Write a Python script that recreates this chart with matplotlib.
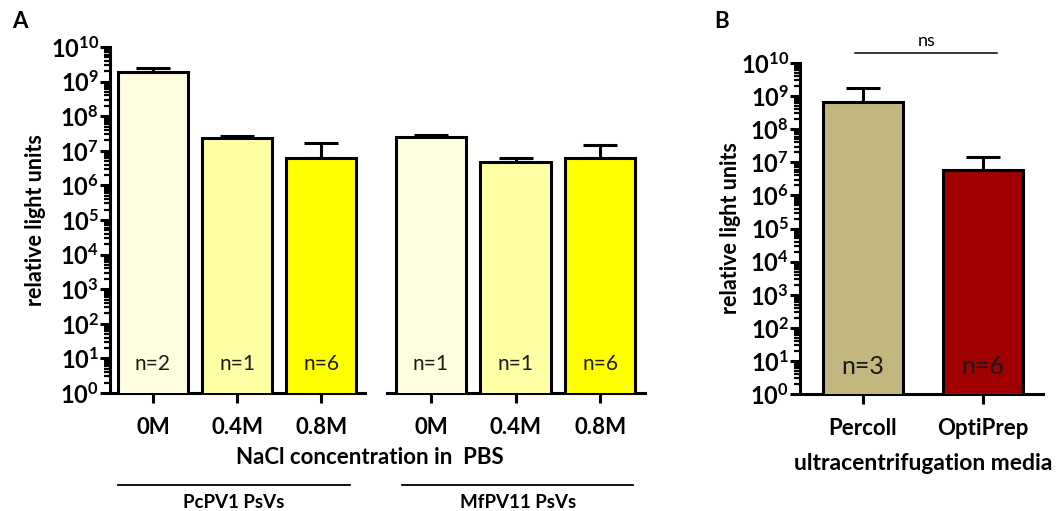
import matplotlib
matplotlib.use("Agg")
import matplotlib.pyplot as plt
import numpy as np

plt.rcParams['font.family'] = ['Lato', 'DejaVu Sans']
plt.rcParams['mathtext.fontset'] = 'custom'
plt.rcParams['mathtext.rm'] = 'Lato'
plt.rcParams['mathtext.bf'] = 'Lato:bold'

# ---- data ----
conc_labels = ['0M', '0.4M', '0.8M']
pcpv1_values = [1.9e9, 2.3e7, 6.2e6]
pcpv1_err_top = [2.5e9, 2.7e7, 1.7e7]
pcpv1_n = ['n=2', 'n=1', 'n=6']
mfpv11_values = [2.5e7, 4.6e6, 6.0e6]
mfpv11_err_top = [2.8e7, 6.2e6, 1.45e7]
mfpv11_n = ['n=1', 'n=1', 'n=6']
conc_colors = ['#FFFDE0', '#FFFFA3', '#FFFF00']

media_labels = ['Percoll', 'OptiPrep']
media_values = [6.5e8, 5.8e6]
media_err_top = [1.7e9, 1.4e7]
media_n = ['n=3', 'n=6']
media_colors = ['#C2B67F', '#A00000']

ytick_vals = [10.0 ** k for k in range(0, 11)]
ytick_labels = [r'$\mathbf{10^{%d}}$' % k for k in range(0, 11)]

W, H = 1057, 511
fig = plt.figure(figsize=(W / 100, H / 100), dpi=100)


def px_axes(l, r, t, b):
    return fig.add_axes([l / W, (H - b) / H, (r - l) / W, (b - t) / H])


def style_axes(ax, show_y=True):
    ax.set_yscale('log')
    ax.set_ylim(1, 1e10)
    for s in ['top', 'right']:
        ax.spines[s].set_visible(False)
    ax.spines['bottom'].set_linewidth(2.2)
    ax.spines['left'].set_linewidth(2.2)
    ax.tick_params(axis='x', which='major', length=7, width=2.2, direction='out',
                   labelsize=16, pad=10)
    if show_y:
        ax.set_yticks(ytick_vals)
        ax.set_yticklabels(ytick_labels)
        ax.tick_params(axis='y', which='major', length=7, width=2.2, labelsize=17, pad=1)
        ax.tick_params(axis='y', which='minor', length=4.5, width=1.6)
        ax.yaxis.set_minor_locator(matplotlib.ticker.LogLocator(base=10, subs=np.arange(2, 10), numticks=20))
        ax.yaxis.set_minor_formatter(matplotlib.ticker.NullFormatter())
    else:
        ax.spines['left'].set_visible(False)
        ax.tick_params(axis='y', which='both', left=False, labelleft=False)
    for lab in ax.get_xticklabels():
        lab.set_fontweight('bold')


def draw_bars(ax, vals, errs, colors, labels, nlabels, width, nsize=15):
    x = np.arange(len(vals))
    ax.bar(x, vals, width=width, color=colors, edgecolor='black', linewidth=2.2, zorder=3)
    lower = np.zeros(len(vals))
    upper = np.array(errs) - np.array(vals)
    ax.errorbar(x, vals, yerr=[lower, upper], fmt='none', ecolor='black',
                elinewidth=2.2, capsize=12, capthick=2.2, zorder=2)
    ax.set_xticks(x)
    ax.set_xticklabels(labels, fontweight='bold')
    for xi, t in zip(x, nlabels):
        ax.text(xi, 7, t, ha='center', va='center', fontsize=nsize, color='#1a1a1a', zorder=4)


# Panel A - left group
axA1 = px_axes(110, 365, 47, 393)
draw_bars(axA1, pcpv1_values, pcpv1_err_top, conc_colors, conc_labels, pcpv1_n, 0.83)
axA1.set_xlim(-0.51, 2.52)
style_axes(axA1)
axA1.set_ylabel('relative light units', fontsize=15.5, fontweight='bold', labelpad=3)

# Panel A - right group
axA2 = px_axes(387, 645, 47, 393)
draw_bars(axA2, mfpv11_values, mfpv11_err_top, conc_colors, conc_labels, mfpv11_n, 0.83)
axA2.set_xlim(-0.52, 2.53)
style_axes(axA2, show_y=False)

# Panel B
axB = px_axes(800, 1043, 63, 394)
draw_bars(axB, media_values, media_err_top, media_colors, media_labels, media_n, 0.667, nsize=18)
axB.set_xlim(-0.525, 1.5)
style_axes(axB)
axB.set_ylabel('relative light units', fontsize=15.5, fontweight='bold', labelpad=0)


def ftext(x, y, s, **kw):
    fig.text(x / W, 1 - y / H, s, **kw)


def fline(x0, x1, y, lw=1.3):
    fig.add_artist(plt.Line2D([x0 / W, x1 / W], [1 - y / H, 1 - y / H], color='black', lw=lw))


ftext(20, 22, 'A', fontsize=16, fontweight='bold', ha='center', va='center')
ftext(722, 22, 'B', fontsize=16, fontweight='bold', ha='center', va='center')
ftext(370, 458, 'NaCl concentration in  PBS', fontsize=16, fontweight='bold', ha='center', va='center')
fline(118, 350, 485)
fline(402, 633, 485)
ftext(234, 502, 'PcPV1 PsVs', fontsize=13.5, fontweight='bold', ha='center', va='center')
ftext(518, 502, 'MfPV11 PsVs', fontsize=13.5, fontweight='bold', ha='center', va='center')
ftext(923, 463, 'ultracentrifugation media', fontsize=16.5, fontweight='bold', ha='center', va='center')
fline(855, 997, 53, lw=1.1)
ftext(927, 41, 'ns', fontsize=13, ha='center', va='center')

fig.savefig('out.png', dpi=100)
